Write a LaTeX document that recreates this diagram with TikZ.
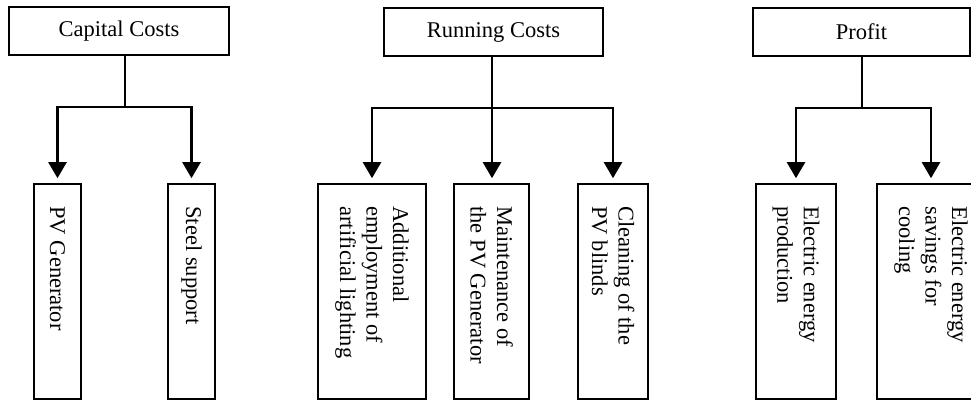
\documentclass[tikz,border=0pt]{standalone}
\usepackage{fontspec}
\setmainfont{Liberation Serif}
\usetikzlibrary{arrows.meta}
\begin{document}
\begin{tikzpicture}[x=1pt,y=-1pt,
  topbox/.style={draw,line width=1.6pt,minimum height=48pt,inner sep=0pt,font=\fontsize{22.5}{26.5}\selectfont},
  leaf/.style={draw,line width=1.6pt,minimum height=215pt,inner sep=0pt},
  leaftext/.style={rotate=-90,anchor=west,inner sep=0pt,align=left,font=\fontsize{22.5}{26.5}\selectfont},
  conn/.style={line width=2.4pt},
  arr/.style={line width=2.4pt,-{Triangle[width=18pt,length=16pt]},shorten >=5pt}]
\useasboundingbox (0,0) rectangle (971,401);
% top boxes
\node[topbox,minimum width=220pt] (cap) at (119,31) {Capital Costs};
\node[topbox,minimum width=219pt] (run) at (493.5,32) {Running Costs};
\node[topbox,minimum width=217pt] (pro) at (861.5,32) {Profit};
% leaf boxes
\node[leaf,minimum width=47pt] (pv) at (57.5,291.5) {};
\node[leaf,minimum width=47pt] (st) at (191.5,291.5) {};
\node[leaf,minimum width=108pt] (add) at (372,291.5) {};
\node[leaf,minimum width=75pt] (mai) at (491.5,291.5) {};
\node[leaf,minimum width=70pt] (cle) at (613,291.5) {};
\node[leaf,minimum width=80pt] (ele) at (796,291.5) {};
\node[leaf,minimum width=108pt] (sav) at (931,291.5) {};
% leaf texts
\node[leaftext] (pvt) at ([yshift=-23pt]pv.north) {PV Generator};
\node[leaftext] (stt) at ([yshift=-23pt]st.north) {Steel support};
\node[leaftext] (addt) at ([yshift=-23pt]add.north) {Additional\\employment of\\artificial lighting};
\node[leaftext] (mait) at ([yshift=-23pt]mai.north) {Maintenance of\\the PV Generator};
\node[leaftext] (clet) at ([yshift=-23pt]cle.north) {Cleaning of the\\PV blinds};
\node[leaftext] (elet) at ([yshift=-23pt]ele.north) {Electric energy\\production};
\node[leaftext] (savt) at ([yshift=-23pt]sav.north) {Electric energy\\savings for\\cooling};
% junctions
\coordinate (j1) at (125,107);
\coordinate (j2) at (492,108);
\coordinate (j3) at (862,108);
% connectors
\draw[conn] (cap.south -| j1) -- (j1);
\draw[arr] (j1) -| (pv.north);
\draw[arr] (j1) -| (st.north);
\draw[conn] (run.south -| j2) -- (j2);
\draw[arr] (j2) -| (add.north);
\draw[arr] (j2) -- (j2 |- mai.north);
\draw[arr] (j2) -| (cle.north);
\draw[conn] (pro.south -| j3) -- (j3);
\draw[arr] (j3) -| (ele.north);
\draw[arr] (j3) -| (sav.north);
\end{tikzpicture}
\end{document}
